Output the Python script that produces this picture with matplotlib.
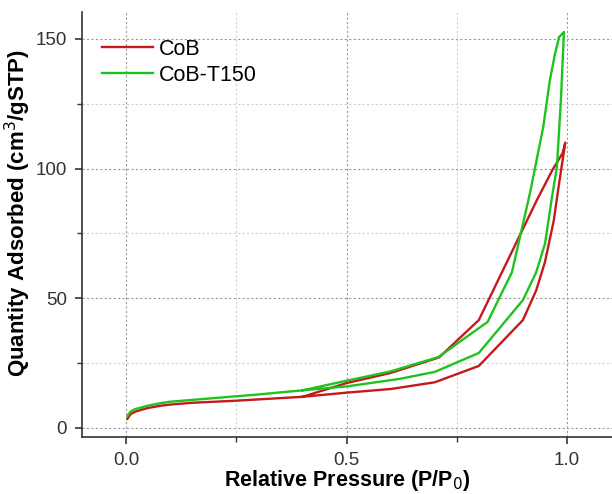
import numpy as np
from matplotlib import pyplot as plt
from matplotlib.ticker import MultipleLocator

plt.rcParams["font.family"] = ["Liberation Sans", "DejaVu Sans"]

# CoB isotherm (adsorption then desorption branch)
cob_ads_p = [0.003, 0.01, 0.02, 0.035, 0.05, 0.08, 0.1, 0.15, 0.2, 0.25, 0.3, 0.4, 0.5, 0.6, 0.7, 0.8, 0.9, 0.93, 0.95, 0.97, 0.98, 0.996]
cob_ads_q = [3.5, 5.3, 6.2, 7.0, 7.7, 8.6, 9.0, 9.7, 10.1, 10.5, 11.0, 12.0, 13.6, 15.0, 17.6, 23.9, 41.6, 53, 64, 80, 92, 110]
cob_des_p = [0.996, 0.99, 0.967, 0.932, 0.8, 0.71, 0.6, 0.5, 0.4]
cob_des_q = [110, 106, 99.5, 88, 41.6, 27.2, 21.2, 17.3, 12.0]

# CoB-T150 isotherm
t150_ads_p = [0.003, 0.01, 0.02, 0.035, 0.05, 0.08, 0.1, 0.15, 0.2, 0.25, 0.3, 0.4, 0.5, 0.62, 0.7, 0.8, 0.9, 0.93, 0.95, 0.965, 0.977, 0.986, 0.993]
t150_ads_q = [4.6, 6.3, 7.2, 7.9, 8.6, 9.6, 10.1, 10.8, 11.5, 12.2, 12.9, 14.5, 16.0, 18.9, 21.6, 28.9, 49.3, 60, 71, 88, 100.6, 126, 152.7]
t150_des_p = [0.993, 0.982, 0.973, 0.961, 0.946, 0.916, 0.875, 0.844, 0.82, 0.708, 0.6, 0.5, 0.4]
t150_des_q = [152.7, 150.7, 144.5, 134, 116, 90.6, 60, 49.3, 40.9, 27.3, 21.8, 18.2, 14.5]

red = "#c41a1c"
green = "#1ec31e"

fig = plt.figure(figsize=(6.12, 4.94), dpi=100)
ax = fig.add_axes([0.134, 0.1154, 0.866, 0.8603])

ax.plot(cob_ads_p + cob_des_p, cob_ads_q + cob_des_q, color=red, lw=1.7, label="CoB")
ax.plot(t150_ads_p + t150_des_p, t150_ads_q + t150_des_q, color=green, lw=1.7, label="CoB-T150")

ax.set_xlim(-0.1, 1.102)
ax.set_ylim(-3.5, 160.4)
ax.xaxis.set_major_locator(MultipleLocator(0.5))
ax.xaxis.set_minor_locator(MultipleLocator(0.25))
ax.yaxis.set_major_locator(MultipleLocator(50))
ax.yaxis.set_minor_locator(MultipleLocator(25))
ax.xaxis.set_major_formatter(plt.FormatStrFormatter("%.1f"))

ax.grid(which="major", color="#9a9a9a", linestyle=(0, (2, 2)), lw=0.8)
ax.grid(which="minor", color="#d0d0d0", linestyle=(0, (2, 2)), lw=0.8)
ax.set_axisbelow(True)

for s in ["top", "right"]:
    ax.spines[s].set_visible(False)
for s in ["left", "bottom"]:
    ax.spines[s].set_color("#333333")
    ax.spines[s].set_linewidth(1.2)

ax.tick_params(which="major", direction="out", length=5, width=1.2, color="#333333",
               labelsize=13.5, labelcolor="#333333")
ax.tick_params(axis="x", which="major", pad=6)
ax.tick_params(axis="y", which="major", pad=6)
ax.tick_params(which="minor", direction="out", length=3.5, width=1.0, color="#333333")

ax.set_xlabel("Relative Pressure (P/P$_0$)", fontsize=15.5, fontweight="bold")
ax.set_ylabel("Quantity Adsorbed (cm$^3$/gSTP)", fontsize=16, fontweight="bold")
ax.xaxis.set_label_coords(0.5, -0.074)
ax.yaxis.set_label_coords(-0.092, 0.527)

ax.legend(loc="upper left", bbox_to_anchor=(0.002, 0.982), frameon=False, fontsize=15.5,
          handlelength=2.35, handletextpad=0.25, labelspacing=0.22)

fig.savefig("out.png", dpi=100)
